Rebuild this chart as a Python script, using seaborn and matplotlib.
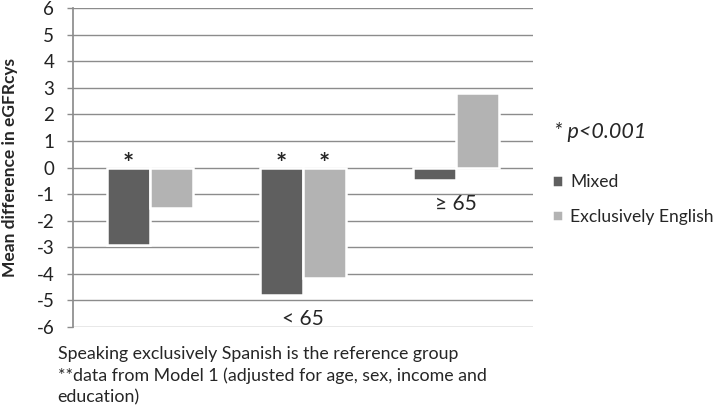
import matplotlib
matplotlib.use("Agg")
import matplotlib.pyplot as plt
import pandas as pd
import seaborn as sns

# values
groups = ["All", "< 65", "\u2265 65"]
group_labels = ["", "< 65", "\u2265 65"]
mixed = [-2.93, -4.79, -0.47]
english = [-1.53, -4.17, 2.80]
mixed_sig = [True, True, False]
english_sig = [False, True, False]
series = ["Mixed", "Exclusively English"]
colors = ["#5f5f5f", "#b3b3b3"]
y_ticks = list(range(-6, 7))

df = pd.DataFrame({
    "group": groups * 2,
    "series": [series[0]] * 3 + [series[1]] * 3,
    "value": mixed + english,
})

sns.set_theme(style="white")
plt.rcParams["font.family"] = ["Lato", "DejaVu Sans"]

fig = plt.figure(figsize=(7.2, 4.11), dpi=100)
ax = fig.add_axes([0.1014, 0.2044, 0.6389, 0.7761])

ax.set_axisbelow(True)
ax.yaxis.grid(True, color="#8c8c8c", linewidth=1.0)

sns.barplot(
    data=df, x="group", y="value", hue="series", order=groups,
    hue_order=series, palette=colors, width=0.56, gap=0,
    edgecolor="white", linewidth=1.8, saturation=1, ax=ax, legend=True,
)

ax.set_ylim(-6, 6)
ax.set_xlim(-0.5, 2.5)
ax.set_yticks(y_ticks)
ax.set_yticklabels([str(t) for t in y_ticks], fontsize=13.5, color="#222222")
ax.set_xticks([])
ax.set_xlabel("")
ax.set_ylabel("Mean difference in eGFRcys", fontsize=12.5, fontweight="bold")
ax.yaxis.set_label_coords(-0.12, 0.5)
for s in ["top", "right", "bottom"]:
    ax.spines[s].set_visible(False)
ax.spines["left"].set_color("#8c8c8c")
ax.tick_params(axis="y", which="major", left=True, length=4.5, color="#8c8c8c",
               width=1, pad=9)

# significance stars above the zero line
for cont, sig in zip(ax.containers, [mixed_sig, english_sig]):
    for bar, s in zip(cont, sig):
        if s:
            ax.text(bar.get_x() + bar.get_width() / 2, 0.12, "*",
                    ha="center", va="center", fontsize=19, fontweight="bold")

# group labels sitting under the lowest bar of each group
for i, lab in enumerate(group_labels):
    low = min(mixed[i], english[i], 0)
    ax.text(i, low - 0.9, lab, ha="center", va="center", fontsize=15)

handles, labels = ax.get_legend_handles_labels()
ax.legend(handles, labels, loc="upper left", bbox_to_anchor=(0.757, 0.593),
          bbox_transform=fig.transFigure, frameon=False, fontsize=12.6,
          handlelength=0.65, handleheight=0.65, handletextpad=0.4,
          labelspacing=1.05, borderaxespad=0)

fig.text(0.769, 0.68, "* p<0.001", fontsize=15.5, style="italic", va="center")

fig.text(0.080, 0.157, "Speaking exclusively Spanish is the reference group\n"
         "**data from Model 1 (adjusted for age, sex, income and\n"
         "education)", fontsize=12.8, va="top", linespacing=1.38)

fig.savefig("out.png", dpi=100)
